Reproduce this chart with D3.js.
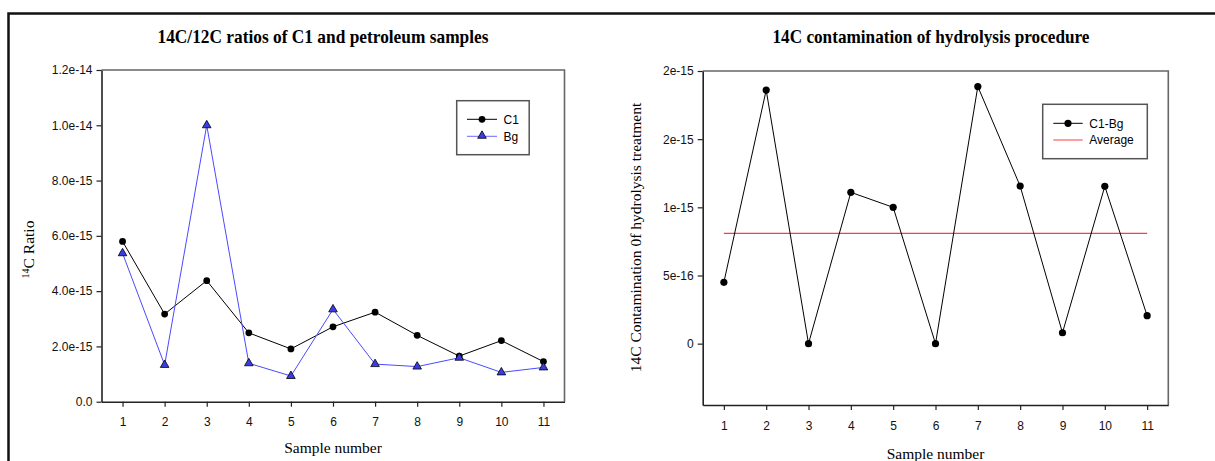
<!DOCTYPE html>
<html>
<head>
<meta charset="utf-8">
<script src="https://cdn.jsdelivr.net/npm/d3@7"></script>
<style>
  html, body { margin: 0; padding: 0; background: #fff; }
  svg { display: block; }
</style>
</head>
<body>
<svg id="chart" width="1215" height="461"></svg>
<script>
// Sample numbers shared by both panels
const samples = [1, 2, 3, 4, 5, 6, 7, 8, 9, 10, 11];

// Left panel: 14C/12C ratios
const c1Ratio = [5.80e-15, 3.17e-15, 4.38e-15, 2.49e-15, 1.91e-15, 2.71e-15, 3.24e-15, 2.40e-15, 1.65e-15, 2.21e-15, 1.45e-15];
const bgRatio = [5.37e-15, 1.33e-15, 1.00e-14, 1.39e-15, 0.93e-15, 3.34e-15, 1.36e-15, 1.27e-15, 1.59e-15, 1.06e-15, 1.24e-15];
const ratioTickValues = [0, 2e-15, 4e-15, 6e-15, 8e-15, 1.0e-14, 1.2e-14];
const ratioTickLabels = ["0.0", "2.0e-15", "4.0e-15", "6.0e-15", "8.0e-15", "1.0e-14", "1.2e-14"];

// Right panel: contamination (C1 - Bg)
const contamination = [0.45e-15, 1.86e-15, 0, 1.11e-15, 1.00e-15, 0, 1.886e-15, 1.156e-15, 0.08e-15, 1.154e-15, 0.205e-15];
const contamTickValues = [0, 5e-16, 1e-15, 1.5e-15, 2e-15];
const contamTickLabels = ["0", "5e-16", "1e-15", "2e-15", "2e-15"];

const svg = d3.select("#chart");
const SERIF = "'Liberation Serif', 'Times New Roman', serif";
const SANS = "'Liberation Sans', Arial, sans-serif";

// Outer frame (top and left edges)
svg.append("path")
  .attr("d", "M8.5,461 L8.5,13.5 L1215,13.5")
  .attr("fill", "none").attr("stroke", "#111").attr("stroke-width", 2.5);

function panel(opt) {
  const g = svg.append("g");
  const x = d3.scaleLinear().domain([0.5, 11.5]).range([opt.left, opt.right]);
  const y = d3.scaleLinear().domain(opt.yDomain).range([opt.bottom, opt.top]);

  // plot box (top/right edges)
  g.append("path")
    .attr("d", `M${opt.left},${opt.top} H${opt.right} V${opt.bottom}`)
    .attr("fill", "none").attr("stroke", "#666").attr("stroke-width", 1.6);

  // axes
  const yAxis = d3.axisLeft(y)
    .tickValues(opt.yTicks)
    .tickFormat((d, i) => opt.yLabels[i])
    .tickSize(5).tickPadding(4).tickSizeOuter(0);
  const ya = g.append("g").attr("transform", `translate(${opt.left},0)`).call(yAxis);

  const xAxis = d3.axisBottom(x).tickValues(samples).tickFormat(d3.format("d"))
    .tickSize(5).tickPadding(11).tickSizeOuter(0);
  const xa = g.append("g").attr("transform", `translate(0,${opt.bottom})`).call(xAxis);

  [ya, xa].forEach(a => {
    a.select(".domain").attr("stroke", "#222").attr("stroke-width", 1.6);
    a.selectAll(".tick line").attr("stroke", "#222").attr("stroke-width", 1.2);
    a.selectAll(".tick text").attr("font-family", SANS).attr("font-size", 12).attr("fill", "#111");
  });

  // title
  g.append("text")
    .attr("x", opt.titleX).attr("y", 43)
    .attr("text-anchor", "middle")
    .attr("font-family", SERIF).attr("font-weight", "bold").attr("font-size", 19)
    .attr("textLength", opt.titleWidth).attr("lengthAdjust", "spacingAndGlyphs")
    .text(opt.title);

  // x axis title
  g.append("text")
    .attr("x", (opt.left + opt.right) / 2).attr("y", opt.xTitleY)
    .attr("text-anchor", "middle")
    .attr("font-family", SERIF).attr("font-size", 15.5)
    .text("Sample number");

  return { g, x, y };
}

// ---------- Left panel ----------
const L = panel({
  left: 101.5, right: 564.5, top: 70, bottom: 401.7,
  yDomain: [0, 1.2e-14], yTicks: ratioTickValues, yLabels: ratioTickLabels,
  title: "14C/12C ratios of C1 and petroleum samples", titleX: 323, titleWidth: 331,
  xTitleY: 453
});

const yTitleL = L.g.append("text")
  .attr("transform", "translate(34,249.5) rotate(-90)")
  .attr("text-anchor", "middle")
  .attr("font-family", SERIF).attr("font-size", 15.5);
yTitleL.append("tspan").attr("font-size", 10).attr("baseline-shift", "super").text("14");
yTitleL.append("tspan").text("C Ratio");

const lineL = d3.line().x((d, i) => L.x(samples[i])).y(d => L.y(d));
L.g.append("path").datum(c1Ratio).attr("d", lineL)
  .attr("fill", "none").attr("stroke", "#000").attr("stroke-width", 1);
L.g.append("path").datum(bgRatio).attr("d", lineL)
  .attr("fill", "none").attr("stroke", "#4a4aff").attr("stroke-width", 1);

const tri = d3.symbol(d3.symbolTriangle).size(32);
L.g.selectAll(".c1").data(c1Ratio).join("circle")
  .attr("cx", (d, i) => L.x(samples[i])).attr("cy", d => L.y(d))
  .attr("r", 3.4).attr("fill", "#000");
L.g.selectAll(".bg").data(bgRatio).join("path")
  .attr("d", tri)
  .attr("transform", (d, i) => `translate(${L.x(samples[i])},${L.y(d)})`)
  .attr("fill", "#3c3ce6").attr("stroke", "#000").attr("stroke-width", 0.8);

// legend
const legL = L.g.append("g");
legL.append("rect").attr("x", 456.7).attr("y", 100.7).attr("width", 72.5).attr("height", 54)
  .attr("fill", "#fff").attr("stroke", "#555").attr("stroke-width", 1.5);
legL.append("line").attr("x1", 467).attr("x2", 497).attr("y1", 119.3).attr("y2", 119.3)
  .attr("stroke", "#000").attr("stroke-width", 1);
legL.append("circle").attr("cx", 482).attr("cy", 119.3).attr("r", 3.4).attr("fill", "#000");
legL.append("line").attr("x1", 467).attr("x2", 497).attr("y1", 136.3).attr("y2", 136.3)
  .attr("stroke", "#6a6aff").attr("stroke-width", 1);
legL.append("path").attr("d", tri).attr("transform", "translate(482,135.8)")
  .attr("fill", "#3c3ce6").attr("stroke", "#000").attr("stroke-width", 0.8);
legL.append("text").attr("x", 503.5).attr("y", 123.5)
  .attr("font-family", SANS).attr("font-size", 12).text("C1");
legL.append("text").attr("x", 503.5).attr("y", 140.5)
  .attr("font-family", SANS).attr("font-size", 12).text("Bg");

// ---------- Right panel ----------
const R = panel({
  left: 702.7, right: 1168.3, top: 71, bottom: 405,
  yDomain: [-4.5e-16, 2e-15], yTicks: contamTickValues, yLabels: contamTickLabels,
  title: "14C contamination of hydrolysis procedure", titleX: 931, titleWidth: 317,
  xTitleY: 459
});

R.g.append("text")
  .attr("transform", "translate(641,237.5) rotate(-90)")
  .attr("text-anchor", "middle")
  .attr("font-family", SERIF).attr("font-size", 15.5)
  .text("14C Contamination 0f hydrolysis treatment");

// average line
const avg = d3.mean(contamination);
R.g.append("line")
  .attr("x1", R.x(samples[0])).attr("x2", R.x(samples[samples.length - 1]))
  .attr("y1", R.y(avg)).attr("y2", R.y(avg))
  .attr("stroke", "#ff3b3b").attr("stroke-width", 1.2);

const lineR = d3.line().x((d, i) => R.x(samples[i])).y(d => R.y(d));
R.g.append("path").datum(contamination).attr("d", lineR)
  .attr("fill", "none").attr("stroke", "#000").attr("stroke-width", 1);
R.g.selectAll(".cb").data(contamination).join("circle")
  .attr("cx", (d, i) => R.x(samples[i])).attr("cy", d => R.y(d))
  .attr("r", 3.6).attr("fill", "#000");

// legend
const legR = R.g.append("g");
legR.append("rect").attr("x", 1042.7).attr("y", 104.3).attr("width", 104.6).attr("height", 54.4)
  .attr("fill", "#fff").attr("stroke", "#555").attr("stroke-width", 1.5);
legR.append("line").attr("x1", 1053.3).attr("x2", 1082.7).attr("y1", 123.3).attr("y2", 123.3)
  .attr("stroke", "#000").attr("stroke-width", 1);
legR.append("circle").attr("cx", 1068).attr("cy", 123.3).attr("r", 3.6).attr("fill", "#000");
legR.append("line").attr("x1", 1053.3).attr("x2", 1082.7).attr("y1", 140).attr("y2", 140)
  .attr("stroke", "#ff5a5a").attr("stroke-width", 1.2);
legR.append("text").attr("x", 1089.3).attr("y", 127.5)
  .attr("font-family", SANS).attr("font-size", 12).text("C1-Bg");
legR.append("text").attr("x", 1089.3).attr("y", 144.3)
  .attr("font-family", SANS).attr("font-size", 12).text("Average");
</script>
</body>
</html>
